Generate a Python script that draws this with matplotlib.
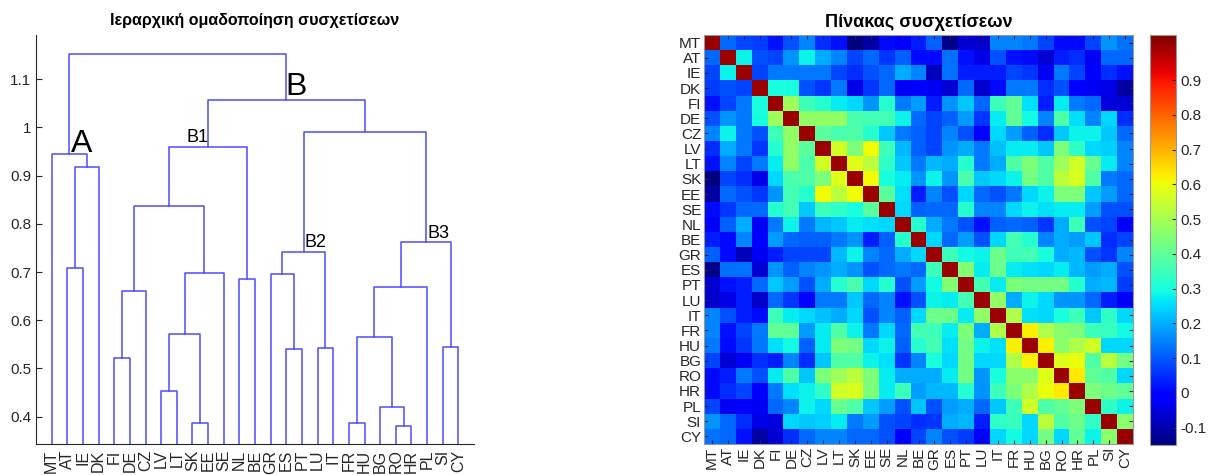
import matplotlib
matplotlib.use("Agg")
import matplotlib.pyplot as plt
import numpy as np

plt.rcParams['font.family'] = ['Liberation Sans', 'DejaVu Sans']

countries = ["MT", "AT", "IE", "DK", "FI", "DE", "CZ", "LV", "LT", "SK", "EE", "SE", "NL", "BE",
             "GR", "ES", "PT", "LU", "IT", "FR", "HU", "BG", "RO", "HR", "PL", "SI", "CY"]

# lower triangle of the correlation matrix, row i has values for columns 0..i-1
corr_lower = [
    [],
    [0.12],
    [0.08, 0.28],
    [0.07, 0.09, 0.08],
    [0.02, 0.08, 0.14, 0.30],
    [0.09, 0.17, 0.14, 0.30, 0.49],
    [0.15, 0.28, 0.14, 0.09, 0.35, 0.47],
    [0.05, 0.20, 0.14, 0.06, 0.32, 0.47, 0.39],
    [0.02, 0.15, 0.08, 0.14, 0.27, 0.47, 0.37, 0.56],
    [-0.15, 0.08, 0.05, -0.04, 0.25, 0.37, 0.38, 0.44, 0.58],
    [-0.11, 0.12, 0.09, 0.06, 0.17, 0.36, 0.32, 0.61, 0.53, 0.61],
    [0.01, 0.06, 0.12, 0.12, 0.32, 0.36, 0.23, 0.35, 0.33, 0.30, 0.39],
    [-0.02, 0.11, 0.20, -0.03, 0.14, 0.28, 0.14, 0.21, 0.23, 0.27, 0.26, 0.25],
    [0.03, 0.01, 0.15, 0.00, 0.18, 0.12, 0.11, 0.11, 0.14, 0.17, 0.03, 0.11, 0.32],
    [0.11, 0.01, -0.09, -0.03, 0.03, 0.08, 0.08, 0.08, 0.21, 0.28, 0.15, 0.12, 0.20, 0.25],
    [-0.14, 0.13, 0.13, -0.06, 0.17, 0.11, 0.15, 0.17, 0.20, 0.17, 0.09, 0.12, 0.14, 0.12, 0.35],
    [-0.06, 0.02, 0.03, 0.12, 0.23, 0.18, 0.09, 0.20, 0.32, 0.37, 0.25, 0.32, 0.09, 0.18, 0.29, 0.45],
    [-0.07, -0.04, 0.03, -0.07, 0.12, 0.06, -0.02, 0.14, 0.14, 0.23, 0.12, 0.15, 0.02, 0.09, 0.28, 0.27, 0.36],
    [0.15, 0.09, 0.03, 0.01, 0.35, 0.27, 0.25, 0.22, 0.20, 0.25, 0.09, 0.15, 0.11, 0.25, 0.42, 0.42, 0.27, 0.47],
    [0.15, 0.02, 0.08, 0.14, 0.40, 0.40, 0.18, 0.27, 0.38, 0.28, 0.14, 0.25, 0.12, 0.36, 0.35, 0.27, 0.44, 0.20, 0.51],
    [0.14, 0.01, 0.06, 0.14, 0.26, 0.29, 0.11, 0.27, 0.44, 0.43, 0.25, 0.28, 0.11, 0.32, 0.36, 0.26, 0.43, 0.28, 0.26, 0.62],
    [0.08, -0.06, -0.03, 0.05, 0.03, 0.15, 0.05, 0.23, 0.38, 0.38, 0.28, 0.26, 0.06, 0.15, 0.30, 0.25, 0.43, 0.25, 0.25, 0.51, 0.62],
    [0.01, 0.03, 0.14, 0.09, 0.27, 0.38, 0.23, 0.44, 0.49, 0.53, 0.44, 0.27, 0.20, 0.20, 0.20, 0.27, 0.43, 0.17, 0.30, 0.46, 0.46, 0.58],
    [0.01, 0.05, 0.08, -0.02, 0.14, 0.26, 0.28, 0.33, 0.56, 0.57, 0.44, 0.27, 0.35, 0.18, 0.21, 0.21, 0.32, 0.17, 0.35, 0.44, 0.51, 0.60, 0.63],
    [0.08, -0.03, 0.00, -0.03, 0.12, 0.15, 0.28, 0.25, 0.41, 0.38, 0.23, 0.18, 0.09, 0.23, 0.09, 0.18, 0.20, 0.12, 0.23, 0.35, 0.56, 0.38, 0.40, 0.44],
    [0.17, 0.12, 0.05, -0.04, -0.05, 0.25, 0.23, 0.24, 0.27, 0.14, 0.18, 0.09, 0.08, 0.05, 0.06, 0.20, 0.21, 0.03, 0.33, 0.34, 0.25, 0.53, 0.38, 0.42, 0.33],
    [0.13, 0.12, 0.02, -0.11, -0.06, 0.05, 0.12, 0.15, 0.15, 0.12, 0.12, 0.09, 0.00, 0.08, 0.15, 0.09, 0.07, 0.00, 0.25, 0.29, 0.25, 0.43, 0.25, 0.40, 0.28, 0.46],
]

# dendrogram merges: (left id, right id, height); leaves are 0..26 in display order,
# merge k creates cluster id 27+k
merges = [
    (22, 23, 0.380), (19, 20, 0.387), (9, 10, 0.3875), (21, 27, 0.419),
    (7, 8, 0.453), (4, 5, 0.522), (15, 16, 0.541), (17, 18, 0.543),
    (25, 26, 0.544), (28, 30, 0.565), (31, 29, 0.5715), (32, 6, 0.660),
    (36, 24, 0.668), (12, 13, 0.686), (14, 33, 0.696), (37, 11, 0.697),
    (1, 2, 0.7085), (41, 34, 0.742), (39, 35, 0.763), (38, 42, 0.838),
    (43, 3, 0.917), (0, 47, 0.944), (46, 40, 0.960), (44, 45, 0.990),
    (49, 50, 1.058), (48, 51, 1.153),
]

# group labels: text, x (leaf units), y (height)
group_labels = [("A", 2.92, 0.950, 23), ("B", 16.6, 1.067, 23),
                ("B1", 10.3, 0.969, 13), ("B2", 17.88, 0.751, 13), ("B3", 25.7, 0.770, 13)]

n = len(countries)
corr = np.eye(n)
for i, row in enumerate(corr_lower):
    for j, v in enumerate(row):
        corr[i, j] = v
        corr[j, i] = v

fig = plt.figure(figsize=(12.08, 4.75), dpi=100)
axis_col = '#262626'

# ---- dendrogram ----
ax = fig.add_axes([36/1208, 31/475, 438/1208, 409/475])
pos_x = {i: i + 1.0 for i in range(n)}
pos_h = {i: 0.0 for i in range(n)}
line_col = '#4c4cff'
for k, (a, b, h) in enumerate(merges):
    xa, xb = pos_x[a], pos_x[b]
    ax.plot([xa, xa, xb, xb], [pos_h[a], h, h, pos_h[b]], color=line_col, lw=1.1)
    pos_x[n + k] = (xa + xb) / 2
    pos_h[n + k] = h

for txt, x, y, fs in group_labels:
    ax.text(x, y, txt, ha='center', va='baseline', fontsize=fs, color='black')

ax.set_xlim(0, n + 1)
ax.set_ylim(0.343, 1.192)
ax.set_xticks(np.arange(1, n + 1))
ax.set_xticklabels(countries, rotation=90, fontsize=11.5, color=axis_col)
ax.set_yticks(np.arange(0.4, 1.15, 0.1))
ax.set_yticklabels(['%g' % round(v, 1) for v in np.arange(0.4, 1.15, 0.1)], fontsize=11, color=axis_col)
ax.tick_params(axis='y', direction='in', length=4, color=axis_col)
ax.tick_params(axis='x', direction='in', length=0, pad=4)
for s in ['top', 'right']:
    ax.spines[s].set_visible(False)
for s in ['left', 'bottom']:
    ax.spines[s].set_color(axis_col)
    ax.spines[s].set_linewidth(0.8)
ax.set_title('Ιεραρχική ομαδοποίηση συσχετίσεων', fontsize=11.5, fontweight='bold', pad=7)

# ---- correlation heatmap ----
ax2 = fig.add_axes([704/1208, 31/475, 429/1208, 409/475])
im = ax2.imshow(corr, cmap='jet', vmin=-0.15, vmax=1.03, aspect='auto', interpolation='nearest')
ax2.set_xticks(np.arange(n))
ax2.set_yticks(np.arange(n))
ax2.set_xticklabels(countries, rotation=90, fontsize=11, color=axis_col)
ax2.set_yticklabels(countries, fontsize=11, color=axis_col)
ax2.tick_params(direction='in', length=3, top=True, right=True, color=axis_col, pad=2)
for s in ax2.spines.values():
    s.set_color('#999999')
    s.set_linewidth(0.8)
ax2.set_title('Πίνακας συσχετίσεων', fontsize=13, fontweight='bold', pad=6)

cax = fig.add_axes([1150/1208, 30/475, 26/1208, 410/475])
cb = fig.colorbar(im, cax=cax)
cb_ticks = np.arange(-0.1, 0.95, 0.1)
cb.set_ticks(cb_ticks)
cb.set_ticklabels(['%g' % round(v, 1) for v in cb_ticks])
cb.ax.tick_params(direction='in', length=3, labelsize=11, colors=axis_col)
cb.outline.set_edgecolor('#999999')
cb.outline.set_linewidth(0.8)

fig.savefig('out.png', dpi=100)
